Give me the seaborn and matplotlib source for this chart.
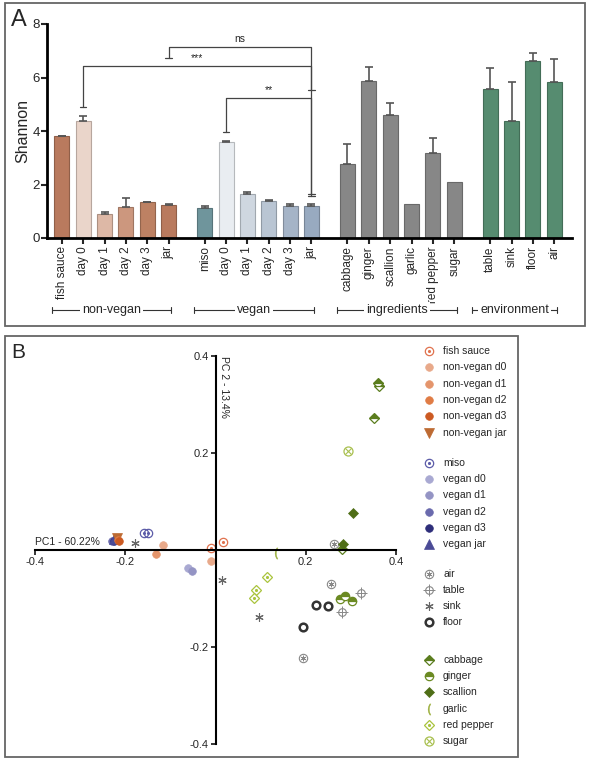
import numpy as np
import pandas as pd
import matplotlib
matplotlib.use("Agg")
import matplotlib.pyplot as plt
import matplotlib.transforms as mtransforms
from matplotlib.colors import to_rgb
from matplotlib.patches import Rectangle
import seaborn as sns

# ---------- panel A: Shannon index ----------
nonvegan_labels = ['fish sauce', 'day 0', 'day 1', 'day 2', 'day 3', 'jar']
nonvegan_shannon = [3.81, 4.38, 0.90, 1.15, 1.33, 1.23]
nonvegan_err = [0.02, 0.18, 0.06, 0.35, 0.03, 0.05]
nonvegan_colors = ['#b97a5e', '#ead5ca', '#ddb8a6', '#cc977e', '#bd8163', '#b97a5e']

vegan_labels = ['miso', 'day 0', 'day 1', 'day 2', 'day 3', 'jar']
vegan_shannon = [1.12, 3.58, 1.64, 1.38, 1.20, 1.20]
vegan_err = [0.07, 0.05, 0.08, 0.05, 0.08, 0.07]
vegan_colors = ['#6f959c', '#e9edf1', '#cfd7e0', '#b9c5d3', '#a5b4c7', '#98aac0']

ingredient_labels = ['cabbage', 'ginger', 'scallion', 'garlic', 'red pepper', 'sugar']
ingredient_shannon = [2.75, 5.86, 4.59, 1.26, 3.17, 2.08]
ingredient_err = [0.76, 0.52, 0.47, 0.0, 0.58, 0.0]
ingredient_colors = ['#878787'] * 6

env_labels = ['table', 'sink', 'floor', 'air']
env_shannon = [5.58, 4.39, 6.60, 5.82]
env_err = [0.79, 1.44, 0.33, 0.88]
env_colors = ['#568c70'] * 4

group_names = ['non-vegan', 'vegan', 'ingredients', 'environment']

# significance brackets: (bar index left, bar index right, top, left end, right end, label)
sig_left = [1, 5, 7]
sig_right = [11, 11, 11]
sig_top = [6.43, 7.15, 5.22]
sig_left_end = [4.90, 6.74, 3.95]
sig_right_end = [1.65, 5.53, 1.57]
sig_text = ['***', 'ns', '**']

# ---------- panel B: PCA ----------
pca_sample = (['fish sauce'] * 2 + ['non-vegan d0'] * 2 + ['non-vegan d1', 'non-vegan d2', 'non-vegan d3', 'non-vegan jar']
              + ['miso'] * 2 + ['vegan d0', 'vegan d1', 'vegan d2', 'vegan d3', 'vegan jar']
              + ['air'] * 3 + ['table'] * 2 + ['sink'] * 3 + ['floor'] * 3
              + ['cabbage'] * 4 + ['ginger'] * 3 + ['scallion'] * 2 + ['garlic'] + ['red pepper'] * 3 + ['sugar'])
pca_pc1 = [0.016, -0.009, -0.116, -0.011, -0.131, -0.217, -0.213, -0.219,
           -0.158, -0.149, -0.062, -0.053, -0.229, -0.226, -0.224,
           0.262, 0.256, 0.193, 0.322, 0.280, -0.178, 0.015, 0.096, 0.222, 0.249, 0.193,
           0.361, 0.363, 0.351, 0.281, 0.276, 0.288, 0.302, 0.304, 0.282, 0.133,
           0.114, 0.090, 0.085, 0.294]
pca_pc2 = [0.017, 0.004, 0.010, -0.023, -0.008, 0.021, 0.019, 0.025,
           0.035, 0.035, -0.037, -0.043, 0.019, 0.018, 0.023,
           0.012, -0.070, -0.223, -0.089, -0.128, 0.015, -0.062, -0.138, -0.113, -0.115, -0.158,
           0.345, 0.338, 0.272, 0.003, -0.101, -0.095, -0.105, 0.076, 0.013, -0.007,
           -0.055, -0.083, -0.099, 0.204]

legend_groups = [
    ['fish sauce', 'non-vegan d0', 'non-vegan d1', 'non-vegan d2', 'non-vegan d3', 'non-vegan jar'],
    ['miso', 'vegan d0', 'vegan d1', 'vegan d2', 'vegan d3', 'vegan jar'],
    ['air', 'table', 'sink', 'floor'],
    ['cabbage', 'ginger', 'scallion', 'garlic', 'red pepper', 'sugar'],
]


def dot_circle(c):
    return [dict(marker='o', mfc='none', mec=c, ms=6, mew=0.9),
            dict(marker='.', color=c, ms=2.5)]


def filled(c, m='o', ms=5.5):
    return [dict(marker=m, mfc=c, mec=c, ms=ms, mew=0.5)]


# marker layers for each sample type
styles = {
    'fish sauce': dot_circle('#e0724e'),
    'non-vegan d0': filled('#e8a98a'),
    'non-vegan d1': filled('#e4956c'),
    'non-vegan d2': filled('#e07c45'),
    'non-vegan d3': filled('#cc5a22'),
    'non-vegan jar': filled('#bd6a32', 'v', 7),
    'miso': dot_circle('#5c5ca8'),
    'vegan d0': filled('#a9a9d2'),
    'vegan d1': filled('#9494c4'),
    'vegan d2': filled('#6a6aad'),
    'vegan d3': filled('#2e2e7a'),
    'vegan jar': filled('#4a4a96', '^', 7),
    'air': [dict(marker='o', mfc='none', mec='#888888', ms=6, mew=0.8),
            dict(marker=(6, 2, 0), mec='#888888', ms=4, mew=0.6)],
    'table': [dict(marker='o', mfc='none', mec='#888888', ms=5.5, mew=0.8),
              dict(marker='+', mec='#888888', ms=8.5, mew=0.7)],
    'sink': [dict(marker=(6, 2, 0), mec='#666666', ms=6, mew=0.8)],
    'floor': [dict(marker='o', mfc='white', mec='#333333', ms=5.5, mew=1.8)],
    'cabbage': [dict(marker='D', fillstyle='top', mfc='#5b7d1e', mfcalt='white', mec='#5b7d1e', ms=5, mew=0.9)],
    'ginger': [dict(marker='o', fillstyle='top', mfc='#6b8a22', mfcalt='white', mec='#6b8a22', ms=6, mew=0.9)],
    'scallion': filled('#4f6e17', 'D', 5),
    'garlic': [dict(marker='$($', color='#9aae3a', ms=8, mew=0.3)],
    'red pepper': [dict(marker='D', mfc='white', mec='#a9c43c', ms=5.5, mew=0.9),
                   dict(marker='.', color='#a9c43c', ms=2.5)],
    'sugar': [dict(marker='o', mfc='none', mec='#a9c050', ms=6.5, mew=0.9),
              dict(marker='x', mec='#a9c050', ms=4, mew=0.8)],
}

sns.set_style("white")
plt.rcParams['font.family'] = ['Liberation Sans', 'DejaVu Sans']

fig = plt.figure(figsize=(5.89, 7.62), dpi=100)

# overlay in pixel units for frames, panel letters and legend
ov = fig.add_axes([0, 0, 1, 1])
ov.set_xlim(0, 589)
ov.set_ylim(762, 0)
ov.axis('off')
ov.add_patch(Rectangle((5, 3), 580, 323, fill=False, ec='#666666', lw=1.3))
ov.add_patch(Rectangle((5, 336), 513, 421, fill=False, ec='#666666', lw=1.3))
ov.text(11, 20, 'A', fontsize=17, va='center')
ov.text(11, 353, 'B', fontsize=15, va='center')

# ---------- panel A ----------
rows = []
idx = 0
for g, (labels, vals, errs, cols) in enumerate(zip(
        [nonvegan_labels, vegan_labels, ingredient_labels, env_labels],
        [nonvegan_shannon, vegan_shannon, ingredient_shannon, env_shannon],
        [nonvegan_err, vegan_err, ingredient_err, env_err],
        [nonvegan_colors, vegan_colors, ingredient_colors, env_colors])):
    for lab, v, e, c in zip(labels, vals, errs, cols):
        rows.append(dict(group=group_names[g], label=lab, bar_id=f'{g}_{lab}',
                         pos=idx + g * 0.69, shannon=v, err=e, color=c))
        idx += 1
df_a = pd.DataFrame(rows)

axA = fig.add_axes([47 / 589, 1 - 238 / 762, (572 - 47) / 589, (238 - 24) / 762])
sns.barplot(data=df_a, x='pos', y='shannon', hue='bar_id',
            palette=dict(zip(df_a.bar_id, df_a.color)), native_scale=True,
            dodge=False, width=0.7, errorbar=None, legend=False, saturation=1, ax=axA)
for p, c in zip(axA.patches, df_a.color):
    p.set_edgecolor(tuple(np.array(to_rgb(c)) * 0.78))
    p.set_linewidth(0.8)

has_err = df_a.err > 0
axA.errorbar(df_a.pos[has_err], df_a.shannon[has_err],
             yerr=[np.zeros(has_err.sum()), df_a.err[has_err]],
             fmt='none', ecolor='#555555', elinewidth=1.2, capsize=3, capthick=1.2)

axA.set_xlim(-0.7, 23.9)
axA.set_ylim(0, 8)
axA.set_yticks([0, 2, 4, 6, 8])
axA.set_xticks(df_a.pos)
axA.set_xticklabels(df_a.label, rotation=90, fontsize=8.5)
axA.tick_params(axis='y', labelsize=9.5, length=4, width=1.5, direction='out', left=True, pad=1)
axA.tick_params(axis='x', length=4, width=1.5, direction='out', bottom=True, pad=2)
axA.set_xlabel('')
axA.set_ylabel('Shannon', fontsize=11.5)
axA.yaxis.set_label_coords(-0.032, 0.5)
for s in ['top', 'right']:
    axA.spines[s].set_visible(False)
for s in ['left', 'bottom']:
    axA.spines[s].set_linewidth(2)
    axA.spines[s].set_color('black')

pos = df_a.pos.values
lc = '#444444'
for xl, xr, yt, yl, yr, t in zip(sig_left, sig_right, sig_top, sig_left_end, sig_right_end, sig_text):
    x1, x2 = pos[xl], pos[xr]
    axA.plot([x1, x1, x2, x2], [yl, yt, yt, yr], color=lc, lw=0.9, clip_on=False)
    for x, y in [(x1, yl), (x2, yr)]:
        axA.plot([x - 0.15, x + 0.15], [y, y], color=lc, lw=0.9, clip_on=False)
    axA.text((x1 + x2) / 2, yt + 0.12, t, ha='center', va='bottom', fontsize=7.5)

# group brackets under the tick labels
trans = mtransforms.blended_transform_factory(axA.transData, axA.transAxes)
yb = -0.336
ext = [(0.45, 0.1), (0.5, 0.1), (0.5, 0.15), (0.85, 0.15)]
for g, name in enumerate(group_names):
    gp = df_a.pos[df_a.group == name]
    x1, x2 = gp.min() - ext[g][0], gp.max() + ext[g][1]
    axA.plot([x1, x2], [yb, yb], color='#333333', lw=0.8, transform=trans, clip_on=False)
    for x in (x1, x2):
        axA.plot([x, x], [yb - 0.015, yb + 0.015], color='#333333', lw=0.8, transform=trans, clip_on=False)
    axA.text((x1 + x2) / 2, yb, name, ha='center', va='center', fontsize=9, transform=trans,
             bbox=dict(facecolor='white', edgecolor='none', pad=1.5), zorder=5, clip_on=False)

# ---------- panel B ----------
df_b = pd.DataFrame({'sample': pca_sample, 'pc1': pca_pc1, 'pc2': pca_pc2})

axB = fig.add_axes([35 / 589, 1 - 744 / 762, (396 - 35) / 589, (744 - 356) / 762])
axB.set_xlim(-0.4, 0.4)
axB.set_ylim(-0.4, 0.4)
for s in ['top', 'right']:
    axB.spines[s].set_visible(False)
for s in ['left', 'bottom']:
    axB.spines[s].set_position('zero')
    axB.spines[s].set_linewidth(1.5)
    axB.spines[s].set_color('black')
axB.set_xticks([-0.4, -0.2, 0.2, 0.4])
axB.set_xticklabels(['-0.4', '-0.2', '0.2', '0.4'])
axB.set_yticks([-0.4, -0.2, 0.2, 0.4])
axB.set_yticklabels(['-0.4', '-0.2', '0.2', '0.4'])
axB.tick_params(labelsize=8, length=3.5, width=1.3, direction='out', left=True, bottom=True, pad=1.5)
axB.patch.set_alpha(0)

draw_order = ['vegan d2', 'vegan d3', 'vegan jar', 'non-vegan jar', 'non-vegan d2', 'non-vegan d3']
order = draw_order + [s for s in styles if s not in draw_order]
for name in order:
    sub = df_b[df_b['sample'] == name]
    for layer in styles[name]:
        axB.plot(sub.pc1, sub.pc2, linestyle='none', clip_on=False, **layer)

axB.text(-0.4, 0.007, 'PC1 - 60.22%', fontsize=7.5, ha='left', va='bottom')
axB.text(0.008, 0.4, 'PC 2 - 13.4%', fontsize=7.5, ha='left', va='top', rotation=-90)

# legend
y = 351
gaps = [14, 13, 21, 0]
for gi, grp in enumerate(legend_groups):
    for name in grp:
        for layer in styles[name]:
            ov.plot([429], [y], linestyle='none', **layer)
        ov.text(443, y, name, fontsize=7.5, va='center', ha='left')
        y += 16.3
    y += gaps[gi]

fig.savefig('out.png', dpi=100)
